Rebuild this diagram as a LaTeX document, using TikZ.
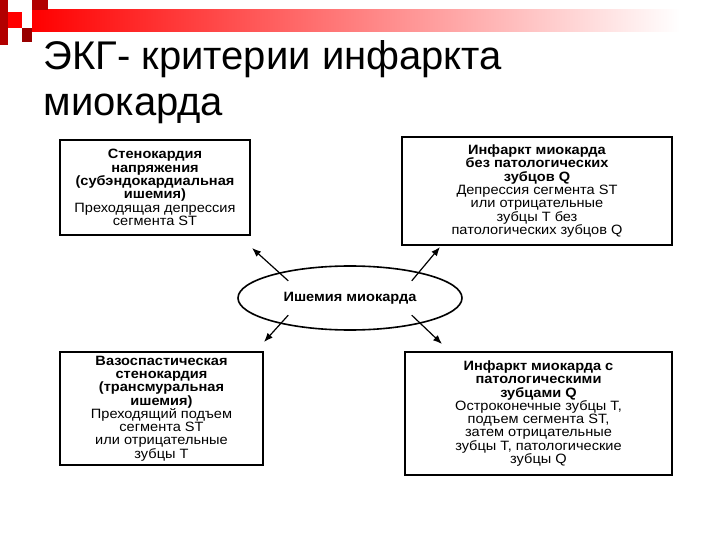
\documentclass[tikz,border=0pt]{standalone}
\usepackage{fontspec}
\setmainfont{Liberation Sans}
\newfontfamily\boxfont[FakeStretch=1.08]{Liberation Sans}
\usetikzlibrary{shapes.geometric,arrows.meta}
\begin{document}
\begin{tikzpicture}[x=1pt,y=-1pt,
  bx/.style={draw,line width=1.6pt,inner sep=0pt,align=center,font=\boxfont\fontsize{13.5}{13.3}\selectfont},
  ar/.style={line width=1.2pt,-{Latex[length=9pt,width=7pt]}}]
\useasboundingbox (0,0) rectangle (720,540);
\fill[white] (0,0) rectangle (720,540);
\shade[left color=red, right color=white] (32,10) rectangle (680,32);
\fill[red!70!black] (0,0) rectangle (8,45);
\fill[red!70!black] (32,0) rectangle (48,10);
\fill[red] (8,12) rectangle (22,28);
\fill[red!60!black] (22,28) rectangle (32,42);
\node[anchor=west,font=\fontsize{40}{46}\selectfont,align=left] (t) at (40,82) {ЭКГ- критерии инфаркта\\миокарда};
\node[bx,minimum width=190pt,minimum height=95pt] (tl) at (155,187.5) {\textbf{Стенокардия}\\\textbf{напряжения}\\\textbf{(субэндокардиальная}\\\textbf{ишемия)}\\Преходящая депрессия\\сегмента ST};
\node[bx,minimum width=270pt,minimum height=108pt] (tr) at (537,191) {\textbf{Инфаркт миокарда}\\\textbf{без патологических}\\\textbf{зубцов Q}\\Депрессия сегмента ST\\или отрицательные\\зубцы T без\\патологических зубцов Q};
\node[bx,minimum width=203pt,minimum height=113pt] (bl) at (161.5,408.5) {\textbf{Вазоспастическая}\\\textbf{стенокардия}\\\textbf{(трансмуральная}\\\textbf{ишемия)}\\Преходящий подъем\\сегмента ST\\или отрицательные\\зубцы T};
\node[bx,minimum width=267pt,minimum height=123pt] (br) at (538.5,413.5) {\textbf{Инфаркт миокарда с}\\\textbf{патологическими}\\\textbf{зубцами Q}\\Остроконечные зубцы T,\\подъем сегмента ST,\\затем отрицательные\\зубцы T, патологические\\зубцы Q};
\node[draw,ellipse,line width=1.6pt,minimum width=224pt,minimum height=64pt,font=\boxfont\bfseries\fontsize{13.5}{15}\selectfont] (e) at (350,298) {Ишемия миокарда};
\coordinate (a1) at (252,248); \coordinate (a2) at (440,247);
\coordinate (a3) at (264,342); \coordinate (a4) at (442,344);
\draw[ar] (e.north west) ++(18,6) -- (a1);
\draw[ar] (e.north east) ++(-18,6) -- (a2);
\draw[ar] (e.south west) ++(18,-6) -- (a3);
\draw[ar] (e.south east) ++(-18,-6) -- (a4);
\end{tikzpicture}
\end{document}
